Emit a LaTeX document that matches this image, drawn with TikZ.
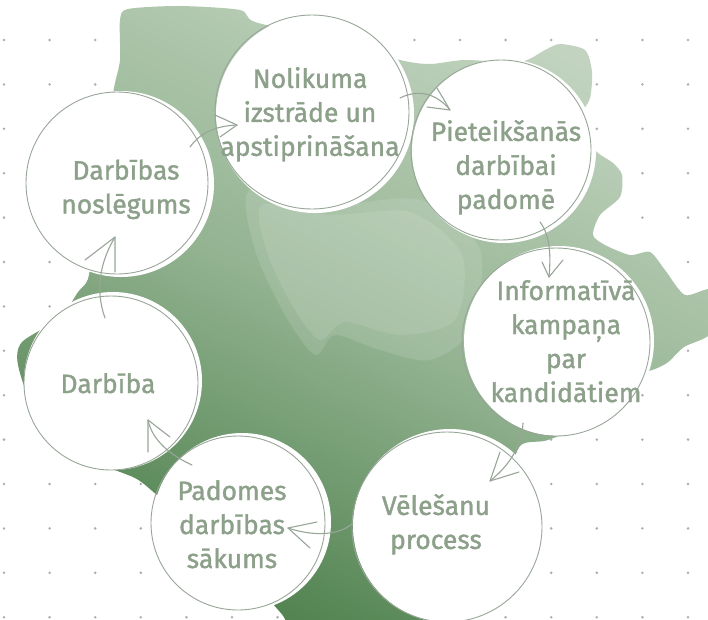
\documentclass[tikz,border=0pt]{standalone}
\usepackage{fontspec}
\setmainfont{Fira Sans}
\newfontfamily\lblfont{Fira Sans}[FakeBold=1.3]
\definecolor{txt}{HTML}{8CA08A}
\definecolor{ringc}{HTML}{98A698}
\definecolor{dotc}{HTML}{AEAEAE}
\definecolor{gLight}{HTML}{C2D4C0}
\definecolor{gMid}{HTML}{93B391}
\definecolor{gDark}{HTML}{4C7F4B}
\newcommand\mytop{\rule{0pt}{20pt}}
\newcommand\mybot{\rule[-7pt]{0pt}{7pt}}
\begin{document}
\begin{tikzpicture}[x=1pt,y=-1pt,
  disc/.style={circle, fill=white, inner sep=0pt, outer sep=0pt},
  ringnode/.style={circle, draw=ringc, line width=0.9pt, inner sep=0pt, outer sep=0pt},
  lbl/.style={text=txt, font=\lblfont\fontsize{26.5}{34}\selectfont, align=center, inner sep=0pt},
  arr/.style={draw=ringc, line width=1.1pt, line cap=round, line join=round}]
\useasboundingbox (0,0) rectangle (708,619);
\clip (0,0) rectangle (708,619);
\fill[white] (0,0) rectangle (708,619);
% dot grid
\foreach \i in {0,...,15}
  \foreach \j in {0,...,13}
    \fill[dotc] ({4+45.6*\i},{40+44.4*\j}) circle[radius=1.4pt];
% watercolour blob
\path[top color=gLight, bottom color=gDark, middle color=gMid, shading angle=-25]
  plot[smooth cycle, tension=0.45] coordinates {
  (120,20) (128,9) (180,6) (240,10) (255,22) (330,40) (400,60) (430,64) (465,60)
  (520,62) (545,50) (560,44) (585,50) (592,72) (590,98) (580,120) (595,150)
  (613,163) (622,175) (620,197) (600,215) (593,235) (605,245) (630,255) (650,252)
  (665,270) (685,295) (712,290) (712,332) (684,347) (667,363) (648,371) (635,365)
  (590,420) (548,440) (520,446) (505,490) (480,540) (440,630) (300,630) (280,612)
  (200,520) (160,497) (135,478) (80,455) (35,410) (18,365) (22,342) (60,318)
  (78,292) (88,279) (94,240) (100,200) (107,140) (114,88) (120,60)};
% lighter wash
\fill[white, opacity=0.12] plot[smooth cycle, tension=0.5] coordinates {
  (250,190) (255,250) (285,315) (315,355) (335,335) (380,350) (430,360)
  (470,330) (480,250) (420,200) (330,205)};
\fill[white, opacity=0.10] plot[smooth cycle, tension=0.5] coordinates {
  (262,205) (268,255) (295,310) (320,340) (345,322) (400,335) (455,320)
  (462,255) (410,212) (330,215)};
% white discs
\node[disc, minimum size=198pt] (w1) at (315,114) {};
\node[disc, minimum size=184pt] (w2) at (504,151) {};
\node[disc, minimum size=190pt] (w3) at (559,341) {};
\node[disc, minimum size=194pt] (w4) at (450,526) {};
\node[disc, minimum size=178pt] (w5) at (242,522) {};
\node[disc, minimum size=178pt] (w6) at (113,381) {};
\node[disc, minimum size=186pt] (w7) at (121,184) {};
% outlines
\node[ringnode, minimum size=194pt] (c1) at (312,112) {};
\node[ringnode, minimum size=180pt] (c2) at (501,150) {};
\node[ringnode, minimum size=188pt] (c3) at (556,342) {};
\node[ringnode, minimum size=190pt] (c4) at (447,527) {};
\node[ringnode, minimum size=174pt] (c5) at (238,523) {};
\node[ringnode, minimum size=174pt] (c6) at (111,383) {};
\node[ringnode, minimum size=182pt] (c7) at (117,183) {};
% labels
\node[lbl] (t1) at (310,115) {\mytop Nolikuma\\izstrāde un\\apstiprināšana\mybot};
\node[lbl] (t2) at (506,168) {\mytop Pieteikšanās\\darbībai\\padomē\mybot};
\node[lbl] (t3) at (566,344.5) {\mytop Informatīvā\\kampaņa\\par\\kandidātiem\mybot};
\node[lbl] (t4) at (436,525) {\mytop Vēlešanu\\process\mybot};
\node[lbl] (t5) at (232,527.5) {\mytop Padomes\\darbības\\sākums\mybot};
\node[lbl] (t6) at (108,386.5) {\mytop Darbība\mybot};
\node[lbl] (t7) at (126,190) {\mytop Darbības\\noslēgums\mybot};
% arrow coordinates
\coordinate (a1s) at (400,98);  \coordinate (a1t) at (450,110);
\coordinate (a1h) at (437,88);  \coordinate (a1k) at (427,107);
\coordinate (a2s) at (540,222); \coordinate (a2t) at (549,277);
\coordinate (a2h) at (542,262); \coordinate (a2k) at (563,260);
\coordinate (a3s) at (523,423); \coordinate (a3t) at (490,481);
\coordinate (a3h) at (519,472); \coordinate (a3k) at (500,452);
\coordinate (a4s) at (353,523); \coordinate (a4t) at (288,528);
\coordinate (a4h) at (317,522); \coordinate (a4k) at (310,548);
\coordinate (a5s) at (192,465); \coordinate (a5t) at (148,420);
\coordinate (a5h) at (148,452); \coordinate (a5k) at (170,437);
\coordinate (a6s) at (105,318); \coordinate (a6t) at (115,237);
\coordinate (a6h) at (85,260);  \coordinate (a6k) at (115,272);
\coordinate (a7s) at (190,147); \coordinate (a7t) at (237,125);
\coordinate (a7h) at (215,115); \coordinate (a7k) at (220,137);
% arrows
\draw[arr] (a1s) .. controls (420,88) and (438,95) .. (a1t);
\draw[arr] (a1h) -- (a1t) -- (a1k);
\draw[arr] (a2s) .. controls (550,235) and (551,255) .. (a2t);
\draw[arr] (a2h) -- (a2t) -- (a2k);
\draw[arr] (a3s) .. controls (522,445) and (510,465) .. (a3t);
\draw[arr] (a3h) -- (a3t) -- (a3k);
\draw[arr] (a4s) .. controls (340,535) and (315,537) .. (a4t);
\draw[arr] (a4h) -- (a4t) -- (a4k);
\draw[arr] (a5s) .. controls (170,455) and (152,440) .. (a5t);
\draw[arr] (a5h) -- (a5t) -- (a5k);
\draw[arr] (a6s) .. controls (95,290) and (100,262) .. (a6t);
\draw[arr] (a6h) -- (a6t) -- (a6k);
\draw[arr] (a7s) .. controls (200,133) and (215,126) .. (a7t);
\draw[arr] (a7h) -- (a7t) -- (a7k);
\end{tikzpicture}
\end{document}
